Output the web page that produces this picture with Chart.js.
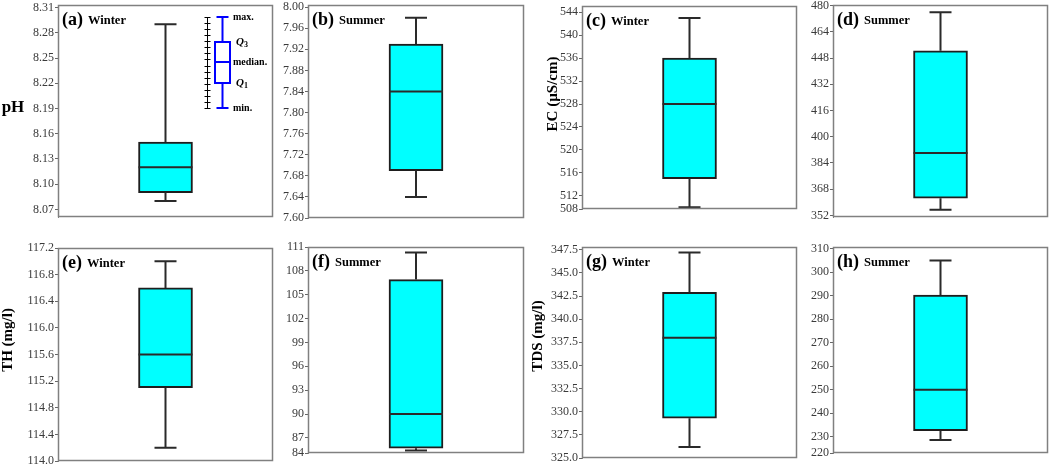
<!DOCTYPE html>
<html><head><meta charset="utf-8">
<script src="https://cdn.jsdelivr.net/npm/chart.js@4/dist/chart.umd.min.js"></script>
<style>
html,body{margin:0;padding:0;background:#fff;overflow:hidden;width:1052px;height:467px;position:relative;}
.p{position:absolute;}
</style></head><body>
<script>
// ---- data ----
const panelLetters = ['(a)','(b)','(c)','(d)','(e)','(f)','(g)','(h)'];
const seasons = ['Winter','Summer','Winter','Summer','Winter','Summer','Winter','Summer'];
const yTitles = ['pH','','EC (µS/cm)','','TH (mg/l)','','TDS (mg/l)',''];
const minValues    = [8.08, 7.64, 510.0, 355.5, 114.2, 85.4, 326.2, 228.6];
const q1Values     = [8.09, 7.69, 515.0, 362.5, 115.1, 85.7, 329.3, 232.6];
const medianValues = [8.12, 7.84, 528.0, 390.0, 115.6, 90.0, 338.0, 250.0];
const q3Values     = [8.15, 7.93, 536.0, 452.5, 116.6, 106.9, 342.9, 290.3];
const maxValues    = [8.29, 7.98, 543.0, 476.0, 117.0, 110.3, 347.2, 305.0];
const ticksA = [8.07, 8.10, 8.13, 8.16, 8.19, 8.22, 8.25, 8.28, 8.31];
const ticksB = [7.60, 7.64, 7.68, 7.72, 7.76, 7.80, 7.84, 7.88, 7.92, 7.96, 8.00];
const ticksC = [508, 512, 516, 520, 524, 528, 532, 536, 540, 544];
const ticksD = [352, 368, 384, 400, 416, 432, 448, 464, 480];
const ticksE = [114.0, 114.4, 114.8, 115.2, 115.6, 116.0, 116.4, 116.8, 117.2];
const ticksF = [84, 87, 90, 93, 96, 99, 102, 105, 108, 111];
const ticksG = [325.0, 327.5, 330.0, 332.5, 335.0, 337.5, 340.0, 342.5, 345.0, 347.5];
const ticksH = [220, 230, 240, 250, 260, 270, 280, 290, 300, 310];
const tickSets = [ticksA, ticksB, ticksC, ticksD, ticksE, ticksF, ticksG, ticksH];
const tickDecimals = [2, 2, 0, 0, 1, 0, 1, 0];
const axisMin = [8.061, 7.600, 509.7, 351.0, 114.0, 85.1, 325.0, 223.1];
const axisMax = [8.313, 8.004, 545.1, 480.4, 117.2, 111.0, 347.8, 310.7];

// ---- layout (page pixels) ----
const layout = [
  {left:0,   axisW:58, plotW:215, plotTop:5,   plotH:212, title:{x:13, y:108, rot:false}},
  {left:276, axisW:32, plotW:216, plotTop:5,   plotH:213},
  {left:527, axisW:55, plotW:215, plotTop:6,   plotH:203, title:{x:26, y:94, rot:true}},
  {left:800, axisW:33, plotW:215, plotTop:5,   plotH:212},
  {left:0,   axisW:58, plotW:215, plotTop:248, plotH:213, title:{x:8, y:340, rot:true}},
  {left:276, axisW:32, plotW:216, plotTop:247, plotH:206},
  {left:527, axisW:55, plotW:215, plotTop:247, plotH:211, title:{x:11, y:336, rot:true}},
  {left:800, axisW:33, plotW:215, plotTop:247, plotH:206}
];
const padT = 10, padB = 10, padR = 3;
const SERIF = '"Liberation Serif", "Times New Roman", serif';

function drawLegendInset(ctx, ca) {
  const x0 = ca.left, y0 = ca.top;
  const rx = x0 + 149.5, top = y0 + 12, bot = y0 + 103;
  ctx.save();
  ctx.strokeStyle = '#000'; ctx.lineWidth = 1;
  ctx.beginPath();
  ctx.moveTo(rx, top); ctx.lineTo(rx, bot);
  const n = 15;
  for (let k = 0; k <= n; k++) {
    const yy = Math.round(top + (bot - top) * k / n) + 0.5;
    ctx.moveTo(rx - 3, yy); ctx.lineTo(rx + 3, yy);
  }
  ctx.stroke();
  const bx1 = x0 + 157, bx2 = x0 + 172, bc = (bx1 + bx2) / 2;
  const yMax = top, yQ3 = y0 + 37, yMed = y0 + 57, yQ1 = y0 + 78, yMin = bot;
  ctx.strokeStyle = '#0000FF'; ctx.lineWidth = 2;
  ctx.strokeRect(bx1, yQ3, bx2 - bx1, yQ1 - yQ3);
  ctx.beginPath();
  ctx.moveTo(bx1, yMed); ctx.lineTo(bx2, yMed);
  ctx.moveTo(bc, yQ3); ctx.lineTo(bc, yMax);
  ctx.moveTo(bc, yQ1); ctx.lineTo(bc, yMin);
  ctx.moveTo(bc - 6, yMax); ctx.lineTo(bc + 6, yMax);
  ctx.moveTo(bc - 6, yMin); ctx.lineTo(bc + 6, yMin);
  ctx.stroke();
  ctx.fillStyle = '#000';
  ctx.textBaseline = 'middle'; ctx.textAlign = 'left';
  ctx.font = 'bold 10px ' + SERIF;
  const lx = x0 + 175;
  ctx.fillText('max.', lx, yMax);
  ctx.fillText('median.', lx, yMed);
  ctx.fillText('min.', lx, yMin);
  const qx = x0 + 178;
  [['3', yQ3], ['1', yQ1]].forEach(([s, yy]) => {
    ctx.font = 'italic bold 11px ' + SERIF;
    ctx.fillText('Q', qx, yy);
    const w = ctx.measureText('Q').width;
    ctx.font = 'bold 8px ' + SERIF;
    ctx.fillText(s, qx + w, yy + 3);
  });
  ctx.restore();
}

const boxPlugin = {
  id: 'boxExtras',
  afterDatasetsDraw(chart, args, opts) {
    const i = opts.index;
    const ctx = chart.ctx, ys = chart.scales.y, ca = chart.chartArea;
    const bar = chart.getDatasetMeta(0).data[0];
    const cx = bar.x, half = bar.width / 2;
    const pMin = ys.getPixelForValue(minValues[i]);
    const pQ1 = ys.getPixelForValue(q1Values[i]);
    const pMed = ys.getPixelForValue(medianValues[i]);
    const pQ3 = ys.getPixelForValue(q3Values[i]);
    const pMax = ys.getPixelForValue(maxValues[i]);
    ctx.save();
    ctx.strokeStyle = '#2a2a2a'; ctx.lineWidth = 2;
    ctx.beginPath();
    ctx.moveTo(cx, pQ3); ctx.lineTo(cx, pMax);
    ctx.moveTo(cx, pQ1); ctx.lineTo(cx, pMin);
    ctx.moveTo(cx - 11, pMax); ctx.lineTo(cx + 11, pMax);
    ctx.moveTo(cx - 11, pMin); ctx.lineTo(cx + 11, pMin);
    ctx.moveTo(cx - half, pMed); ctx.lineTo(cx + half, pMed);
    ctx.stroke();
    // frame
    ctx.strokeStyle = '#808080'; ctx.lineWidth = 1.5;
    ctx.strokeRect(Math.round(ca.left) + 0.5, Math.round(ca.top) + 0.5,
                   Math.round(ca.width) - 1, Math.round(ca.height) - 1);
    // panel label
    ctx.fillStyle = '#000'; ctx.textAlign = 'left'; ctx.textBaseline = 'alphabetic';
    ctx.font = 'bold 18px ' + SERIF;
    const lx = ca.left + 4, ly = ca.top + 19.5;
    ctx.fillText(panelLetters[i], lx, ly);
    const w = ctx.measureText(panelLetters[i]).width;
    ctx.font = 'bold 12.5px ' + SERIF;
    ctx.fillText(seasons[i], lx + w + 5, ly - 1);
    if (i === 0) drawLegendInset(ctx, ca);
    // axis title
    const L = layout[i];
    if (yTitles[i] && L.title) {
      const tx = L.title.x, ty = L.title.y - (L.plotTop - padT);
      ctx.font = (L.title.rot ? 'bold 15px ' : 'bold 17px ') + SERIF;
      ctx.textAlign = 'center'; ctx.textBaseline = 'middle';
      ctx.translate(tx, ty);
      if (L.title.rot) ctx.rotate(-Math.PI / 2);
      ctx.fillText(yTitles[i], 0, 0);
    }
    ctx.restore();
  }
};

for (let i = 0; i < 8; i++) {
  const L = layout[i];
  const ticks = tickSets[i];
  const div = document.createElement('div');
  div.className = 'p';
  div.style.left = L.left + 'px';
  div.style.top = (L.plotTop - padT) + 'px';
  div.style.width = (L.axisW + L.plotW + padR) + 'px';
  div.style.height = (L.plotH + padT + padB) + 'px';
  const cv = document.createElement('canvas');
  div.appendChild(cv);
  document.body.appendChild(div);
  new Chart(cv, {
    type: 'bar',
    data: {
      labels: [seasons[i]],
      datasets: [{
        data: [[q1Values[i], q3Values[i]]],
        backgroundColor: '#00FFFF',
        borderColor: '#1e1e1e',
        borderWidth: 2,
        borderSkipped: false,
        barThickness: 54
      }]
    },
    options: {
      responsive: true, maintainAspectRatio: false, animation: false, events: [],
      layout: { padding: { top: padT, bottom: padB, right: padR, left: 0 } },
      plugins: { legend: { display: false }, tooltip: { enabled: false }, boxExtras: { index: i } },
      scales: {
        x: { display: false },
        y: {
          min: axisMin[i], max: axisMax[i],
          afterBuildTicks: s => { s.ticks = ticks.map(v => ({ value: Math.min(Math.max(v, axisMin[i]), axisMax[i]) })); },
          afterFit: s => { s.width = L.axisW; },
          ticks: {
            autoSkip: false, padding: 1, color: '#3a3a3a',
            font: { family: SERIF, size: 12 },
            callback: (v, idx) => ticks[idx].toFixed(tickDecimals[i])
          },
          grid: { drawOnChartArea: false, drawTicks: true, tickLength: 3, color: '#666' },
          border: { display: true, color: '#808080' }
        }
      }
    },
    plugins: [boxPlugin]
  });
}
</script>
</body></html>
